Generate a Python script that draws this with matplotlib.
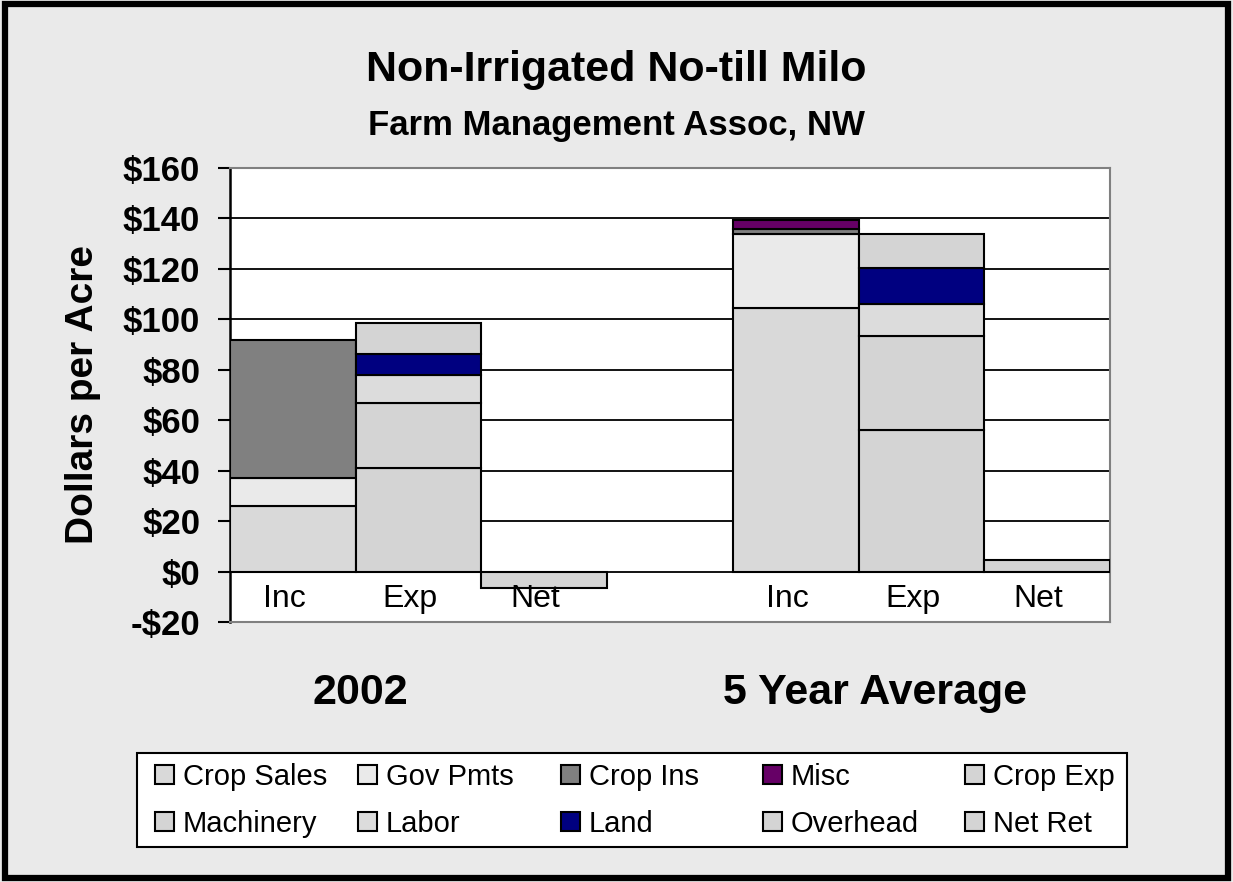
import numpy as np
import matplotlib.pyplot as plt
import matplotlib.patches as patches

plt.rcParams['font.family'] = ['Liberation Sans', 'DejaVu Sans']

# slots: 2002 Inc, Exp, Net, (gap), 5yr Inc, Exp, Net
slot_labels = ['Inc', 'Exp', 'Net', '', 'Inc', 'Exp', 'Net']
group_labels = ['2002', '5 Year Average']

series_names = ['Crop Sales', 'Gov Pmts', 'Crop Ins', 'Misc', 'Crop Exp',
                'Machinery', 'Labor', 'Land', 'Overhead', 'Net Ret']
series_colors = ['#d9d9d9', '#eaeaea', '#808080', '#660066', '#d4d4d4',
                 '#d4d4d4', '#dcdcdc', '#000080', '#d4d4d4', '#d4d4d4']

# dollars per acre, per slot
crop_sales = [26, 0, 0, 0, 104.4, 0, 0]
gov_pmts   = [11, 0, 0, 0, 29.3, 0, 0]
crop_ins   = [55, 0, 0, 0, 2.3, 0, 0]
misc       = [0, 0, 0, 0, 3.4, 0, 0]
crop_exp   = [0, 41, 0, 0, 0, 56, 0]
machinery  = [0, 26, 0, 0, 0, 37.4, 0]
labor      = [0, 11, 0, 0, 0, 12.6, 0]
land       = [0, 8.2, 0, 0, 0, 14.5, 0]
overhead   = [0, 12.5, 0, 0, 0, 13.2, 0]
net_ret    = [0, 0, -6.6, 0, 0, 0, 4.4]

series = [crop_sales, gov_pmts, crop_ins, misc, crop_exp,
          machinery, labor, land, overhead, net_ret]

W, H = 1233, 882
fig = plt.figure(figsize=(12.33, 8.82), dpi=100)
fig.patch.set_facecolor('#eaeaea')
fig.patches.append(patches.Rectangle((0.004, 0.005), 0.992, 0.99, transform=fig.transFigure,
                                     fill=False, ec='black', lw=4.5))

ax = fig.add_axes([230/W, 1-622/H, (1110-230)/W, (622-168)/H])
ax.set_facecolor('white')

x = np.arange(len(slot_labels))
pos_base = np.zeros(len(x))
neg_base = np.zeros(len(x))
handles = []
for name, vals, col in zip(series_names, series, series_colors):
    vals = np.array(vals, dtype=float)
    bottoms = np.where(vals >= 0, pos_base, neg_base)
    mask = vals != 0
    ax.bar(x[mask], vals[mask], bottom=bottoms[mask], width=1.0, color=col,
           edgecolor='black', linewidth=1.5, zorder=3)
    pos_base += np.where(vals > 0, vals, 0)
    neg_base += np.where(vals < 0, vals, 0)
    handles.append(patches.Patch(facecolor=col, edgecolor='black', linewidth=1.5, label=name))

ax.set_xlim(-0.5, 6.5)
ax.set_ylim(-20, 160)
ax.set_yticks(np.arange(-20, 161, 20))
ax.set_yticklabels([('-$%d' % -v) if v < 0 else ('$%d' % v) for v in range(-20, 161, 20)],
                   fontsize=25, fontweight='bold')
ax.tick_params(axis='y', direction='out', length=9, width=1.5, pad=12.5)
ax.set_xticks([])
ax.yaxis.grid(True, color='black', linewidth=1.3, zorder=0)
ax.set_axisbelow(True)
for s in ['top', 'right', 'bottom']:
    ax.spines[s].set_color('#808080')
    ax.spines[s].set_linewidth(1.5)
ax.spines['left'].set_color('black')
ax.spines['left'].set_linewidth(1.8)

for xi, lab in zip(x, slot_labels):
    ax.text(xi - 0.07, -11, lab, ha='center', va='center', fontsize=23, zorder=4)

ax.set_ylabel('Dollars per Acre', fontsize=28, fontweight='bold')
ax.yaxis.set_label_coords(-0.147, 0.5)

fig.text(0.5, 1-70/H, 'Non-Irrigated No-till Milo', ha='center', va='center',
         fontsize=31, fontweight='bold')
fig.text(0.5, 1-125/H, 'Farm Management Assoc, NW', ha='center', va='center',
         fontsize=25, fontweight='bold')
fig.text(360/W, 1-693/H, group_labels[0], ha='center', va='center',
         fontsize=31, fontweight='bold')
fig.text(875/W, 1-693/H, group_labels[1], ha='center', va='center',
         fontsize=31, fontweight='bold')

# legend box, then one small legend per column so the columns sit evenly
fig.patches.append(patches.Rectangle((137/W, 1-847/H), (1127-137)/W, 94/H,
                                     transform=fig.transFigure, fc='white',
                                     ec='black', lw=1.5, zorder=1))
col_x = [155, 358, 561, 763, 965]
for c in range(5):
    idx = [c, c + 5]
    fig.legend([handles[i] for i in idx], [series_names[i] for i in idx],
               loc='upper left', bbox_to_anchor=(col_x[c]/W, 1-763/H),
               fontsize=21, frameon=False, borderpad=0.0, borderaxespad=0.0,
               handlelength=0.65, handleheight=0.65, handletextpad=0.3,
               labelspacing=0.65)

fig.savefig('out.png', dpi=100, facecolor=fig.get_facecolor())
